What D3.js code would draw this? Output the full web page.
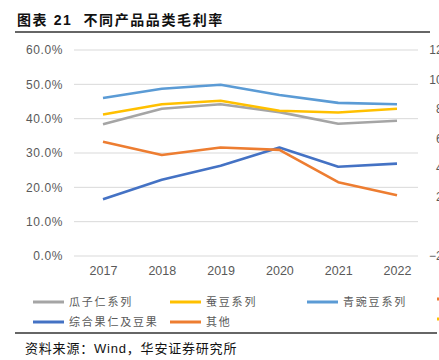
<!DOCTYPE html>
<html><head><meta charset="utf-8">
<script src="https://cdn.jsdelivr.net/npm/d3@7"></script>
<style>
html,body{margin:0;padding:0;background:#fff;}
svg{display:block;}
</style></head>
<body>
<svg id="c" width="439" height="360"></svg>
<script>
const years = ["2017","2018","2019","2020","2021","2022"];
const guaziren = [38.4, 42.9, 44.2, 41.9, 38.5, 39.4];
const candou = [41.2, 44.2, 45.2, 42.3, 41.8, 42.9];
const qingwandou = [46.0, 48.7, 49.9, 46.9, 44.6, 44.2];
const zonghe = [16.5, 22.2, 26.3, 31.6, 26.0, 26.9];
const qita = [33.3, 29.4, 31.6, 30.9, 21.5, 17.7];
const leftTicks = [0, 10, 20, 30, 40, 50, 60];
const rightTicks = [-20, 0, 20, 40, 60, 80, 100, 120];
const seriesNames = ["瓜子仁系列","蚕豆系列","青豌豆系列","综合果仁及豆果","其他"];
const seriesColors = ["#A5A5A5","#FFC000","#5B9BD5","#4472C4","#ED7D31"];
const seriesData = [guaziren, candou, qingwandou, zonghe, qita];
const extraLegendColors = ["#ED7D31","#FFC000"];

const svg = d3.select("#c");
const latin = "'Liberation Sans', Arial, 'Noto Sans CJK SC', sans-serif";
const cjk = "'Noto Sans CJK SC', sans-serif";

// title
svg.append("text").attr("x",17).attr("y",25)
  .attr("font-family",latin).attr("font-weight","bold").attr("font-size",14)
  .attr("letter-spacing",1.6).attr("fill","#111")
  .style("white-space","pre")
  .text("图表 21  不同产品品类毛利率");
svg.append("line").attr("x1",15).attr("x2",430).attr("y1",32).attr("y2",32)
  .attr("stroke","#333").attr("stroke-width",1.3);

const x = d3.scalePoint().domain(years).range([103, 397]);
const y = d3.scaleLinear().domain([0, 60]).range([256, 50]);
const y2 = d3.scaleLinear().domain([-20, 120]).range([256, 50]);
const gridX0 = 74, gridX1 = 418;

// gridlines
svg.append("g").selectAll("line").data(leftTicks).join("line")
  .attr("x1",gridX0).attr("x2",gridX1)
  .attr("y1",d=>y(d)).attr("y2",d=>y(d))
  .attr("stroke","#D9D9D9").attr("stroke-width",1);

// left axis labels
const yAxis = d3.axisLeft(y).tickValues(leftTicks).tickSize(0).tickPadding(0)
  .tickFormat(d=>d.toFixed(1)+"%");
const gy = svg.append("g").attr("transform","translate(63,0)").call(yAxis);
gy.select(".domain").remove();
gy.selectAll("text").attr("font-family",latin).attr("font-size",12)
  .attr("letter-spacing",0.6).attr("fill","#595959");

// right axis labels (cut off at edge)
const yAxis2 = d3.axisRight(y2).tickValues(rightTicks).tickSize(0).tickPadding(0)
  .tickFormat(d=>(d<0?"−":"")+Math.abs(d)+"%");
const gy2 = svg.append("g").attr("transform","translate(460,0)").call(yAxis2);
gy2.select(".domain").remove();
gy2.selectAll("text").attr("font-family",latin).attr("font-size",12)
  .attr("fill","#595959").attr("text-anchor","end");

// x axis labels
const xAxis = d3.axisBottom(x).tickSize(0).tickPadding(0);
const gx = svg.append("g").attr("transform","translate(0,266)").call(xAxis);
gx.select(".domain").remove();
gx.selectAll("text").attr("font-family",latin).attr("font-size",12.5)
  .attr("fill","#595959");

// lines
const line = d3.line().x((d,i)=>x(years[i])).y(d=>y(d));
svg.append("g").selectAll("path").data(seriesData).join("path")
  .attr("d",d=>line(d)).attr("fill","none")
  .attr("stroke",(d,i)=>seriesColors[i]).attr("stroke-width",2.6)
  .attr("stroke-linejoin","round");

// legend
const legendPos = [
  {x:33, y:302}, {x:170, y:302}, {x:307, y:302},
  {x:33, y:322}, {x:170, y:322}
];
const lg = svg.append("g");
seriesNames.forEach((n,i)=>{
  const p = legendPos[i];
  lg.append("line").attr("x1",p.x).attr("x2",p.x+31).attr("y1",p.y).attr("y2",p.y)
    .attr("stroke",seriesColors[i]).attr("stroke-width",3);
  lg.append("text").attr("x",p.x+36).attr("y",p.y+4)
    .attr("font-family",cjk).attr("font-size",11).attr("letter-spacing",1.8)
    .attr("fill","#595959").text(n);
});
extraLegendColors.forEach((c,i)=>{
  lg.append("line").attr("x1",437).attr("x2",468).attr("y1",299+i*20).attr("y2",299+i*20)
    .attr("stroke",c).attr("stroke-width",3);
});

// bottom rule & source
svg.append("line").attr("x1",15).attr("x2",437).attr("y1",333).attr("y2",333)
  .attr("stroke","#333").attr("stroke-width",1.3);
svg.append("text").attr("x",25).attr("y",353)
  .attr("font-family",latin).attr("font-size",13).attr("letter-spacing",0.8)
  .attr("fill","#111").text("资料来源：Wind，华安证券研究所");
</script>
</body></html>
